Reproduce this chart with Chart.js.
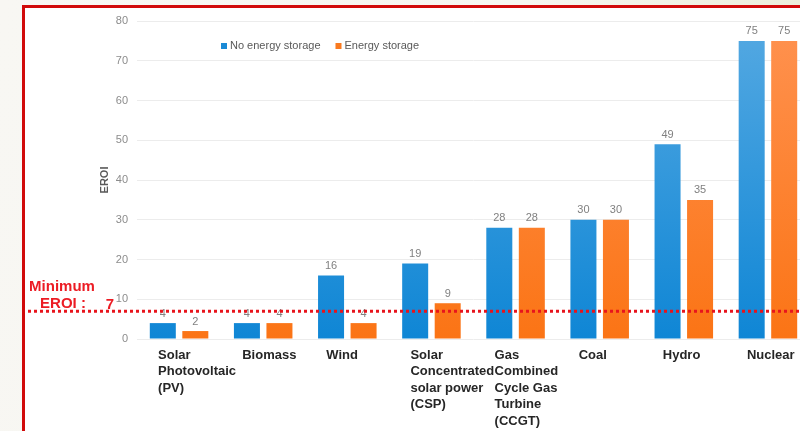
<!DOCTYPE html>
<html>
<head>
<meta charset="utf-8">
<script src="https://cdn.jsdelivr.net/npm/chart.js@4.4.0/dist/chart.umd.min.js"></script>
<style>
  html, body { margin: 0; padding: 0; width: 800px; height: 431px; overflow: hidden; }
  body { position: relative; background: linear-gradient(100deg, #f8f7f3 0%, #f6f6f0 60%, #e9ecd6 100%); }
  #frame { position: absolute; left: 22px; top: 5px; width: 900px; height: 600px; border: 3px solid #d10a0a; background: #fff; }
  #wrap { position: absolute; left: 0; top: 0; width: 820px; height: 431px; }
</style>
</head>
<body>
<div id="frame"></div>
<div id="wrap"><canvas id="eroi-chart"></canvas></div>
<script>
const categories = [
    ['Solar', 'Photovoltaic', '(PV)'],
    ['Biomass'],
    ['Wind'],
    ['Solar', 'Concentrated', 'solar power', '(CSP)'],
    ['Gas', 'Combined', 'Cycle Gas', 'Turbine', '(CCGT)'],
    ['Coal'],
    ['Hydro'],
    ['Nuclear']
];
const seriesNames = ['No energy storage', 'Energy storage'];
const noStorage = [4, 4, 16, 19, 28, 30, 49, 75];
const withStorage = [2, 4, 4, 9, 28, 30, 35, 75];
const yMin = 0;
const yMax = 80;
const yStep = 10;
const minimumEroi = 7;

const FONT = '"Liberation Sans", Arial, sans-serif';
const BLUE = '#1a8ad6';
const ORANGE = '#f97a1f';

// vertical gradient over the plot area, lighter at the top
function barFill(top, bottom) {
    return ctx => {
        const area = ctx.chart.chartArea;
        if (!area) return bottom;
        const g = ctx.chart.ctx.createLinearGradient(0, area.top, 0, area.bottom);
        g.addColorStop(0, top);
        g.addColorStop(1, bottom);
        return g;
    };
}

const extras = {
    id: 'extras',
    afterDatasetsDraw(chart) {
        const { ctx, chartArea, scales: { x, y } } = chart;
        ctx.save();

        // values above the bars
        ctx.font = '11px ' + FONT;
        ctx.fillStyle = '#808080';
        ctx.textAlign = 'center';
        ctx.textBaseline = 'bottom';
        chart.data.datasets.forEach((ds, i) => {
            chart.getDatasetMeta(i).data.forEach((bar, j) => {
                ctx.fillText(ds.data[j], bar.x, bar.y - 4);
            });
        });

        // minimum EROI threshold
        const ly = y.getPixelForValue(minimumEroi);
        ctx.strokeStyle = '#e8141c';
        ctx.lineWidth = 3;
        ctx.setLineDash([3, 3]);
        ctx.beginPath();
        ctx.moveTo(28, ly);
        ctx.lineTo(chart.width, ly);
        ctx.stroke();
        ctx.setLineDash([]);

        ctx.fillStyle = '#ec1c24';
        ctx.font = 'bold 15px ' + FONT;
        ctx.textBaseline = 'middle';
        ctx.textAlign = 'center';
        ctx.fillText('Minimum', 62, ly - 24);
        ctx.fillText('EROI :', 63, ly - 7);
        ctx.fillText(String(minimumEroi), 110, ly - 6);

        // category names, left aligned under each group
        ctx.fillStyle = '#262626';
        ctx.font = 'bold 13px ' + FONT;
        ctx.textAlign = 'left';
        categories.forEach((lines, i) => {
            const cx = x.getPixelForValue(i) - 21;
            lines.forEach((line, k) => {
                ctx.fillText(line, cx, chartArea.bottom + 16 + k * 16.5);
            });
        });

        // legend
        ctx.font = '11px ' + FONT;
        let lx = chartArea.left + 84;
        const legY = 46;
        [BLUE, ORANGE].forEach((c, i) => {
            ctx.fillStyle = c;
            ctx.fillRect(lx, legY - 3, 6, 6);
            ctx.fillStyle = '#595959';
            ctx.fillText(seriesNames[i], lx + 9, legY);
            lx += 9 + ctx.measureText(seriesNames[i]).width + 15;
        });

        ctx.restore();
    }
};

new Chart(document.getElementById('eroi-chart'), {
    type: 'bar',
    data: {
        labels: categories.map(c => c.join(' ')),
        datasets: [{
            label: seriesNames[0],
            data: noStorage,
            backgroundColor: barFill('#55a9e2', '#0f86d5')
        }, {
            label: seriesNames[1],
            data: withStorage,
            backgroundColor: barFill('#ff9250', '#fb7415')
        }]
    },
    options: {
        responsive: true,
        maintainAspectRatio: false,
        animation: false,
        devicePixelRatio: 1,
        categoryPercentage: 0.773,
        barPercentage: 0.8,
        layout: { padding: { left: 95, top: 21, right: 10, bottom: 92 } },
        plugins: {
            legend: { display: false },
            tooltip: { enabled: false }
        },
        scales: {
            x: {
                display: false
            },
            y: {
                min: yMin,
                max: yMax,
                afterFit: s => { s.width = 42; },
                ticks: {
                    stepSize: yStep,
                    padding: 9,
                    color: '#8c8c8c',
                    font: { family: FONT, size: 11 }
                },
                grid: { color: '#ececec', drawTicks: false },
                border: { display: false },
                title: {
                    display: true,
                    text: 'EROI',
                    color: '#595959',
                    padding: { top: 3, bottom: 0 },
                    font: { family: FONT, size: 11, weight: 'bold' }
                }
            }
        }
    },
    plugins: [extras]
});
</script>
</body>
</html>
